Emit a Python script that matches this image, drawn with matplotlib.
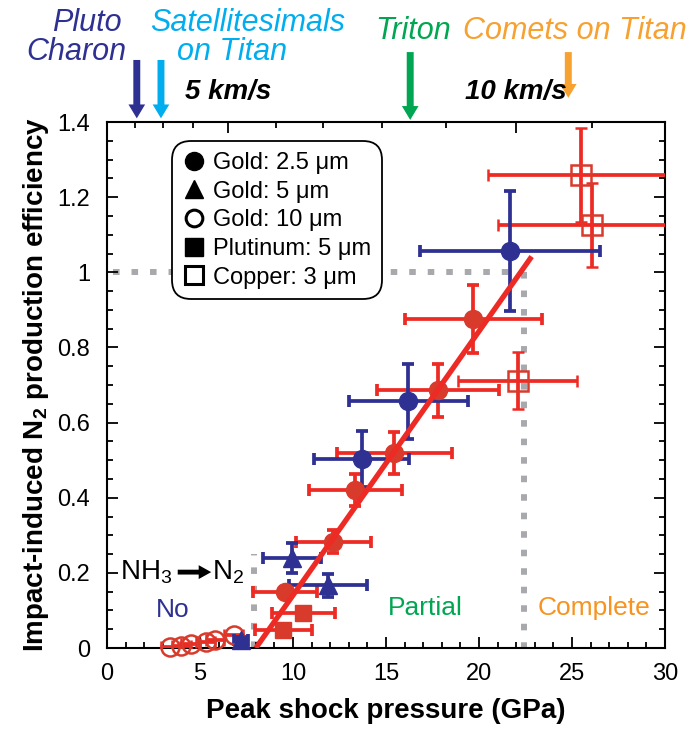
import numpy as np
import matplotlib.pyplot as plt
from matplotlib.lines import Line2D

plt.rcParams["font.family"] = ["Liberation Sans", "DejaVu Sans"]
plt.rcParams["mathtext.fontset"] = "custom"
plt.rcParams["mathtext.rm"] = "Liberation Sans"
plt.rcParams["mathtext.bf"] = "Liberation Sans:bold"

# ---- data ----
# Gold 2.5 um, red series
au25r_p = [9.57, 12.17, 13.35, 15.45, 17.8, 19.7]
au25r_e = [0.150, 0.283, 0.421, 0.519, 0.686, 0.876]
au25r_xerr = [1.7, 2.0, 2.5, 3.1, 3.3, 3.7]
au25r_yerr = [0.012, 0.03, 0.042, 0.055, 0.07, 0.09]
# Gold 2.5 um, blue series
au25b_p = [13.7, 16.2, 21.67]
au25b_e = [0.503, 0.657, 1.056]
au25b_xerr = [2.55, 3.2, 4.85]
au25b_yerr = [0.075, 0.1, 0.16]
# Gold 5 um (blue triangles)
au5_p = [7.2, 9.93, 11.9]
au5_e = [0.02, 0.239, 0.167]
au5_xerr = [0.4, 1.55, 2.1]
au5_yerr = [0.01, 0.04, 0.03]
# Gold 10 um (red open circles)
au10_p = [3.4, 4.0, 4.5, 5.3, 5.8, 6.8]
au10_e = [0.003, 0.006, 0.01, 0.015, 0.02, 0.035]
au10_xerr = [0.5, 0.5, 0.5, 0.5, 0.5, 0.5]
# Platinum 5 um (red squares)
pt5_p = [9.48, 10.55]
pt5_e = [0.048, 0.092]
pt5_xerr = [1.55, 1.7]
# Copper 3 um (red open squares)
cu3_p = [22.08, 25.5, 26.1]
cu3_e = [0.712, 1.258, 1.127]
cu3_xerr = [3.2, 5.0, 5.1]
cu3_yerr = [0.075, 0.125, 0.112]
# linear fit
fit_p = [8.0, 22.83]
fit_e = [0.0, 1.042]

# top axis: impact velocity ticks (km/s) at their peak pressures (GPa)
vel_minor_gpa = [1.5, 3.0, 4.6, 9.1, 11.6, 14.8, 18.2, 26.1]
vel_major_gpa = [6.5, 22.0]
vel_major_lab = ["5 km/s", "10 km/s"]

# arrows for bodies
body_gpa = [1.6, 2.9, 16.3, 24.8]
body_colors = ["#2e3192", "#00aeef", "#00a651", "#f7a130"]

RED = "#ee2a24"
RED_M = "#d83a2c"
BLUE = "#2e3192"
GRAY = "#a7a9ac"

fig = plt.figure(figsize=(6.91, 7.29), dpi=100)
ax = fig.add_axes([0.1549, 0.1111, 0.8075, 0.7215])

# gray dotted guides
dot = dict(color=GRAY, lw=4.3, linestyle=(0, (1.1, 2.0)), dash_capstyle="butt", zorder=1)
ax.plot([0.3, 22.4], [1.0, 1.0], **dot)
ax.plot([22.4, 22.4], [1.0, 0.0], **dot)
ax.plot([7.9, 7.9], [0.0, 0.25], **dot)

eb = dict(elinewidth=2.7, capsize=4, capthick=2.7, linestyle="none", zorder=3)
c10 = ax.errorbar(au10_p, au10_e, xerr=au10_xerr, fmt="o", ms=13, mfc="none", mec=RED_M,
                  mew=1.8, ecolor=RED, **eb)
c10[0].set_clip_on(False)
ax.errorbar(pt5_p, pt5_e, xerr=pt5_xerr, fmt="s", ms=12, color=RED_M, ecolor=RED, **eb)
ax.errorbar(au25r_p, au25r_e, xerr=au25r_xerr, yerr=au25r_yerr, fmt="o", ms=13,
            color=RED_M, ecolor=RED, **eb)
ax.errorbar(cu3_p, cu3_e, xerr=cu3_xerr, yerr=cu3_yerr, fmt="s", ms=15, mfc="none",
            mec=RED_M, mew=1.8, ecolor=RED, **eb)
ax.errorbar(au25b_p, au25b_e, xerr=au25b_xerr, yerr=au25b_yerr, fmt="o", ms=13,
            color=BLUE, ecolor=BLUE, **eb)
c5 = ax.errorbar(au5_p, au5_e, xerr=au5_xerr, yerr=au5_yerr, fmt="^", ms=13,
                 color=BLUE, ecolor=BLUE, **eb)
c5[0].set_clip_on(False)

ax.plot(fit_p, fit_e, color=RED, lw=3.8, solid_capstyle="butt", zorder=4)

ax.set_xlim(0, 30)
ax.set_ylim(0, 1.4)
ax.set_xticks(np.arange(0, 31, 5))
ax.set_xticks(np.arange(0, 31, 1), minor=True)
ax.set_yticks(np.arange(0, 1.41, 0.2))
ax.set_yticks(np.arange(0, 1.41, 0.05), minor=True)
ax.set_yticklabels(["0", "0.2", "0.4", "0.6", "0.8", "1", "1.2", "1.4"])
ax.tick_params(which="both", direction="in", right=True, labelsize=17, width=1.3)
ax.tick_params(axis="x", which="major", length=8, pad=11)
ax.tick_params(axis="y", which="major", length=8, pad=12)
ax.tick_params(which="minor", length=4.5)
for s in ax.spines.values():
    s.set_linewidth(1.5)

ax.set_xlabel("Peak shock pressure (GPa)", fontsize=20, fontweight="bold", labelpad=9)
ax.set_ylabel(r"Impact-induced N$_\mathbf{2}$ production efficiency", fontsize=20,
              fontweight="bold", labelpad=5)

# top velocity axis
ax2 = ax.twiny()
ax2.set_xlim(ax.get_xlim())
ax2.set_xticks(vel_major_gpa)
ax2.set_xticklabels(vel_major_lab, fontsize=20, fontweight="bold", fontstyle="italic")
ax2.set_xticks(vel_minor_gpa, minor=True)
ax2.tick_params(which="both", direction="in", width=1.3)
ax2.tick_params(which="major", length=8, pad=12)
ax2.tick_params(which="minor", length=4.5)
for s in ax2.spines.values():
    s.set_visible(False)

# arrows and body names
tr = ax.get_xaxis_transform()
arrow_tops = [1.118, 1.118, 1.133, 1.133]
arrow_tips = [1.007, 1.007, 1.004, 1.046]
for p, c, y0, y1 in zip(body_gpa, body_colors, arrow_tops, arrow_tips):
    ax.annotate("", xy=(p, y1), xytext=(p, y0), xycoords=tr, textcoords=tr,
                annotation_clip=False,
                arrowprops=dict(width=5, headwidth=12, headlength=10, color=c, lw=0))

txt = dict(ha="center", va="center", fontsize=22, style="italic")
fig.text(0.126, 0.968, "Pluto", color=body_colors[0], **txt)
fig.text(0.110, 0.929, "Charon", color=body_colors[0], **txt)
fig.text(0.359, 0.968, "Satellitesimals", color=body_colors[1], **txt)
fig.text(0.336, 0.929, "on Titan", color=body_colors[1], **txt)
fig.text(0.598, 0.958, "Triton", color=body_colors[2], **txt)
fig.text(0.832, 0.958, "Comets on Titan", color=body_colors[3], **txt)

# annotations inside the plot
ax.text(0.7, 0.202, r"NH$_3$", fontsize=20, va="center", ha="left")
ax.annotate("", xy=(5.6, 0.202), xytext=(3.8, 0.202),
            arrowprops=dict(width=3.5, headwidth=10, headlength=9, color="black", lw=0))
ax.text(5.65, 0.202, r"N$_2$", fontsize=20, va="center", ha="left")
ax.text(3.55, 0.10, "No", fontsize=19, color=BLUE, ha="center", va="center")
ax.text(17.1, 0.107, "Partial", fontsize=19, color="#00a651", ha="center", va="center")
ax.text(26.2, 0.106, "Complete", fontsize=19, color="#f7931e", ha="center", va="center")

handles = [
    Line2D([], [], marker="o", ls="none", color="black", ms=13),
    Line2D([], [], marker="^", ls="none", color="black", ms=13),
    Line2D([], [], marker="o", ls="none", mfc="white", mec="black", mew=2.2, ms=12),
    Line2D([], [], marker="s", ls="none", color="black", ms=13),
    Line2D([], [], marker="s", ls="none", mfc="white", mec="black", mew=2.2, ms=13),
]
labels = ["Gold: 2.5 \u03bcm", "Gold: 5 \u03bcm", "Gold: 10 \u03bcm",
          "Plutinum: 5 \u03bcm", "Copper: 3 \u03bcm"]
leg = ax.legend(handles, labels, loc="upper left", bbox_to_anchor=(0.116, 0.963),
                borderaxespad=0, fontsize=17, handlelength=1.0, handletextpad=0.3,
                labelspacing=0.28, borderpad=0.45, fancybox=True, framealpha=1)
leg.get_frame().set_edgecolor("black")
leg.get_frame().set_linewidth(1.3)
leg.get_frame().set_boxstyle("round", pad=0, rounding_size=0.8)
leg.set_zorder(5)

fig.savefig("out.png", dpi=100)
